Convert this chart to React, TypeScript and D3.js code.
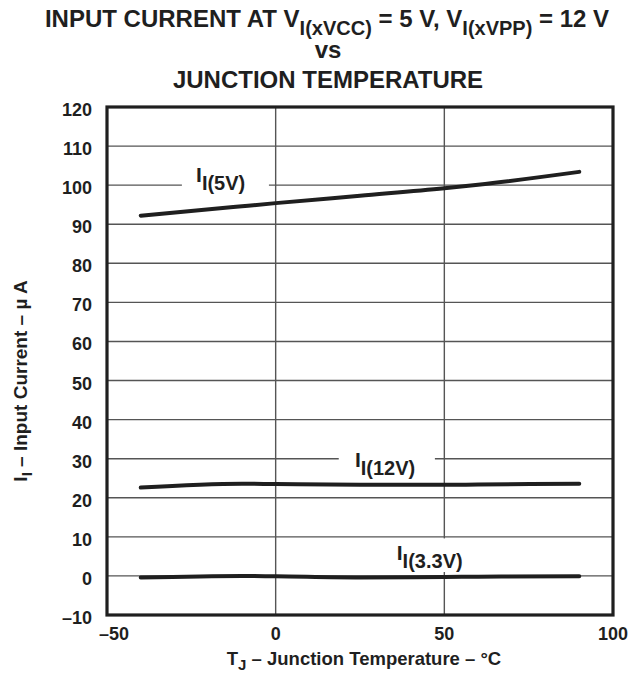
import { scaleLinear, line, curveMonotoneX } from "d3";

// temperatures (°C) at which the curves were read
const temps = [-40, -10, 0, 25, 50, 60, 90];
const current5V = [92.2, 94.6, 95.4, 97.3, 99.2, 100.1, 103.4];
const current12V = [22.6, 23.6, 23.5, 23.3, 23.3, 23.4, 23.6];
const current33V = [-0.4, 0.0, -0.1, -0.4, -0.25, -0.2, -0.1];

const tempTicks = [-50, 0, 50, 100];
const currentTicks = [-10, 0, 10, 20, 30, 40, 50, 60, 70, 80, 90, 100, 110, 120];

const series = [
  { name: "5V", values: current5V },
  { name: "12V", values: current12V },
  { name: "3.3V", values: current33V },
];

// curve labels, anchored in data space; gaps knock out the grid behind them
const labels = [
  { sub: "I(5V)", t: -23.6, v: 100, dyMain: -3, dySub: 5, gap: { kind: "h", at: 100, from: -27.8, to: -2 } },
  { sub: "I(12V)", t: 23.5, v: 30, dyMain: 8, dySub: 16, gap: { kind: "h", at: 30, from: 18.7, to: 47.2 } },
  { sub: "I(3.3V)", t: 35.9, v: 10, dyMain: 23, dySub: 31, gap: { kind: "v", at: 50, from: 1.0, to: 9.6 } },
];

const W = 631;
const H = 673;
const margin = { top: 107, right: 18, bottom: 58, left: 107 };
const font = "'Liberation Sans', Arial, Helvetica, sans-serif";
const ink = "#1f1f1f";
const gridColor = "#555";

export default function App() {
  const x = scaleLinear().domain([-50, 100]).range([margin.left, W - margin.right]);
  const y = scaleLinear().domain([-10, 120]).range([H - margin.bottom, margin.top]);

  const path = line<number>()
    .x((_, i) => x(temps[i]))
    .y((d) => y(d))
    .curve(curveMonotoneX);

  const x0 = x.range()[0];
  const x1 = x.range()[1];
  const y0 = y.range()[0];
  const y1 = y.range()[1];

  return (
    <svg width={W} height={H} style={{ position: "absolute", left: 0, top: 0, background: "#fff" }} fontFamily={font} fontWeight="bold">
      {/* title */}
      <g textAnchor="middle" fill={ink} fontSize={24}>
        <text x={327} y={27}>
          INPUT CURRENT AT V<tspan fontSize={20} dy={8}>I(xVCC)</tspan>
          <tspan dy={-8}> = 5 V, V</tspan>
          <tspan fontSize={20} dy={8}>I(xVPP)</tspan>
          <tspan dy={-8}> = 12 V</tspan>
        </text>
        <text x={328} y={58}>vs</text>
        <text x={328} y={88}>JUNCTION TEMPERATURE</text>
      </g>

      {/* grid */}
      {currentTicks.slice(1, -1).map((v) => (
        <line key={`h${v}`} x1={x0} x2={x1} y1={y(v)} y2={y(v)} stroke={gridColor} strokeWidth={1.4} />
      ))}
      {tempTicks.slice(1, -1).map((t) => (
        <line key={`v${t}`} x1={x(t)} x2={x(t)} y1={y0} y2={y1} stroke={gridColor} strokeWidth={1.4} />
      ))}

      {/* grid knock-outs behind labels */}
      {labels.map(({ sub, gap }) =>
        gap.kind === "h" ? (
          <rect key={`g${sub}`} x={x(gap.from)} width={x(gap.to) - x(gap.from)} y={y(gap.at) - 2} height={4} fill="#fff" />
        ) : (
          <rect key={`g${sub}`} x={x(gap.at) - 2} width={4} y={y(gap.to)} height={y(gap.from) - y(gap.to)} fill="#fff" />
        )
      )}

      {/* frame */}
      <rect x={x0} y={y1} width={x1 - x0} height={y0 - y1} fill="none" stroke={ink} strokeWidth={3.2} />

      {/* curves */}
      {series.map((s) => (
        <path key={s.name} d={path(s.values) ?? ""} fill="none" stroke={ink} strokeWidth={4} strokeLinecap="round" />
      ))}

      {/* curve labels */}
      {labels.map((l) => (
        <text key={l.sub} x={x(l.t)} y={y(l.v) + l.dyMain} fill={ink} fontSize={21}>
          I<tspan fontSize={20} dy={l.dySub - l.dyMain}>{l.sub}</tspan>
        </text>
      ))}

      {/* y tick labels */}
      <g textAnchor="end" fill={ink} fontSize={18}>
        {currentTicks.map((v) => (
          <text key={v} x={x0 - 15} y={y(v) + 9}>
            {v < 0 ? `\u2013${Math.abs(v)}` : v}
          </text>
        ))}
      </g>

      {/* x tick labels */}
      <g textAnchor="middle" fill={ink} fontSize={18}>
        {tempTicks.map((t) => (
          <text key={t} x={x(t) + (t < 0 ? 7 : 0)} y={y0 + 25}>
            {t < 0 ? `\u2013${Math.abs(t)}` : t}
          </text>
        ))}
      </g>

      {/* axis titles */}
      <text x={364} y={665} textAnchor="middle" fill={ink} fontSize={18.5}>
        T<tspan fontSize={15} dy={5}>J</tspan>
        <tspan dy={-5}> – Junction Temperature – °C</tspan>
      </text>
      <text transform="translate(27,381) rotate(-90)" textAnchor="middle" fill={ink} fontSize={19}>
        I<tspan fontSize={15} dy={5}>I</tspan>
        <tspan dy={-5}> – Input Current – µ A</tspan>
      </text>
    </svg>
  );
}
